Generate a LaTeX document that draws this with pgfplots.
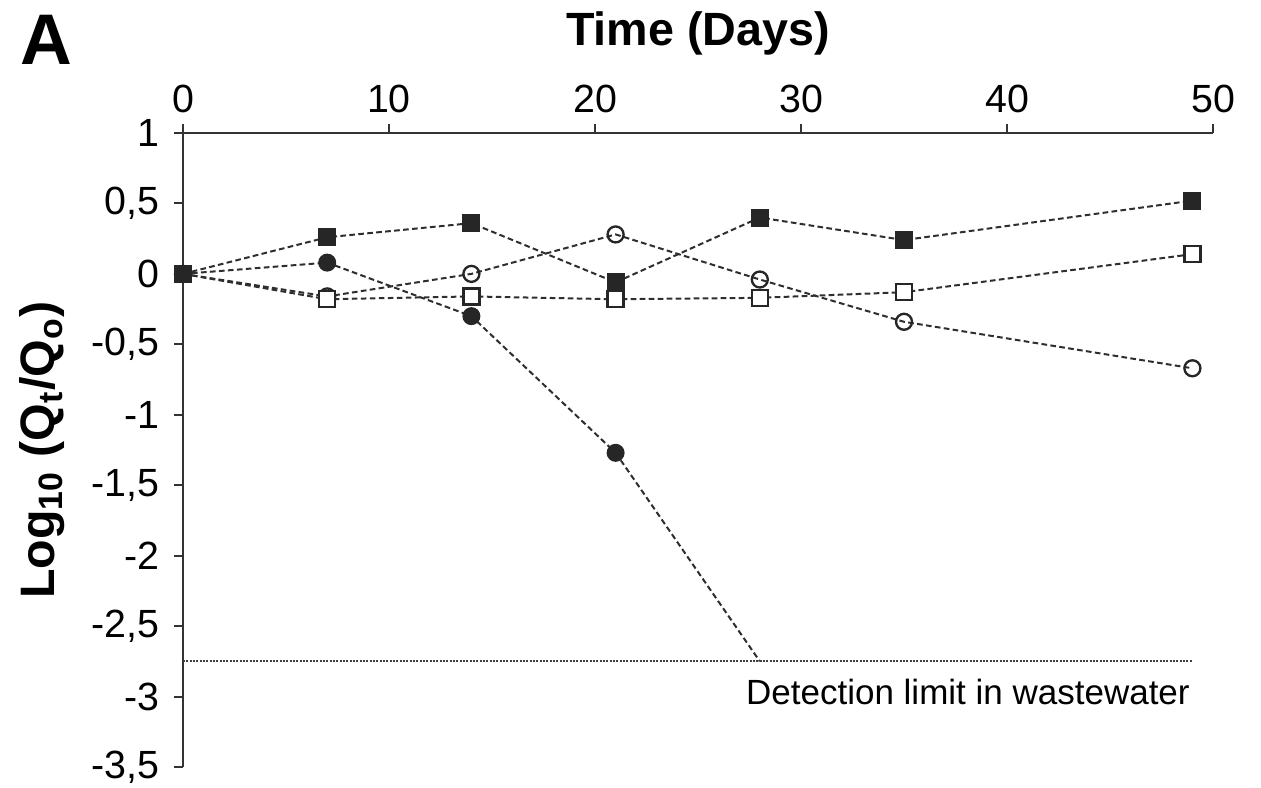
\documentclass[border=0pt]{standalone}
\usepackage{fontspec}
\setmainfont{Liberation Sans}
\usepackage{pgfplots}
\pgfplotsset{compat=1.18}
\definecolor{linegray}{HTML}{2E2E2E}
\begin{document}
\begin{tikzpicture}
\begin{axis}[
  name=ax,
  scale only axis,
  width=309pt, height=190.2pt,
  xmin=0, xmax=50, ymin=-3.5, ymax=1,
  axis x line*=top, axis y line*=left,
  xtick={0,10,...,50}, ytick={-3.5,-3,...,1},
  tick align=outside, major tick length=2.6pt,
  axis line style={line width=0.6pt, color=black!80},
  tick style={line width=0.6pt, color=black!80},
  /pgf/number format/use comma,
  /pgf/number format/assume math mode=true,
  ticklabel style={font=\fontsize{11.8}{13}\selectfont},
  yticklabel style={xshift=-1pt},
  xlabel={\textbf{Time (Days)}},
  xlabel style={font=\fontsize{14}{16}\selectfont, yshift=2pt},
  ylabel={\textbf{Log\textsubscript{10} (Q\textsubscript{t}/Q\textsubscript{o})}},
  ylabel style={font=\fontsize{14.5}{16}\selectfont, yshift=1pt},
  clip=false,
  every axis plot/.append style={linegray, line width=0.6pt, dash pattern=on 1.7pt off 1pt},
]
% detection limit
\addplot[black!75, line width=0.55pt, solid, dash pattern=on 0.6pt off 0.4pt] coordinates {(0,-2.75) (49,-2.75)};
\node[anchor=east, inner sep=0pt, font=\fontsize{10.5}{12}\selectfont] at (axis cs:48.9,-2.97) {Detection limit in wastewater};
% filled circles
\addplot[mark=*, mark size=2.4pt, mark options={solid, fill=black!85, draw=black!85}] coordinates {(0,0) (7,0.08) (14,-0.30) (21,-1.27)};
\addplot[no marks] coordinates {(21,-1.27) (28,-2.75)};
% open circles
\addplot[mark=o, mark size=2.4pt, mark options={solid, draw=black!85, fill=white, line width=0.7pt}] coordinates {(0,0) (7,-0.16) (14,0.0) (21,0.28) (28,-0.04) (35,-0.34) (49,-0.67)};
% open squares
\addplot[mark=square*, mark size=2.4pt, mark options={solid, draw=black!85, fill=white, line width=0.7pt}] coordinates {(0,0) (7,-0.18) (14,-0.16) (21,-0.18) (28,-0.17) (35,-0.13) (49,0.14)};
% filled squares
\addplot[mark=square*, mark size=2.4pt, mark options={solid, fill=black!85, draw=black!85}] coordinates {(0,0) (7,0.26) (14,0.36) (21,-0.06) (28,0.40) (35,0.24) (49,0.52)};
\end{axis}
\node[anchor=north west, inner sep=0pt, font=\fontsize{21.5}{24}\selectfont\bfseries] at ([xshift=-49pt,yshift=35.5pt]ax.north west) {A};
\pgfresetboundingbox
\path[use as bounding box] ([xshift=-54.9pt,yshift=-6.3pt]ax.south west) rectangle ([xshift=14.4pt,yshift=39.9pt]ax.north east);
\end{tikzpicture}
\end{document}
